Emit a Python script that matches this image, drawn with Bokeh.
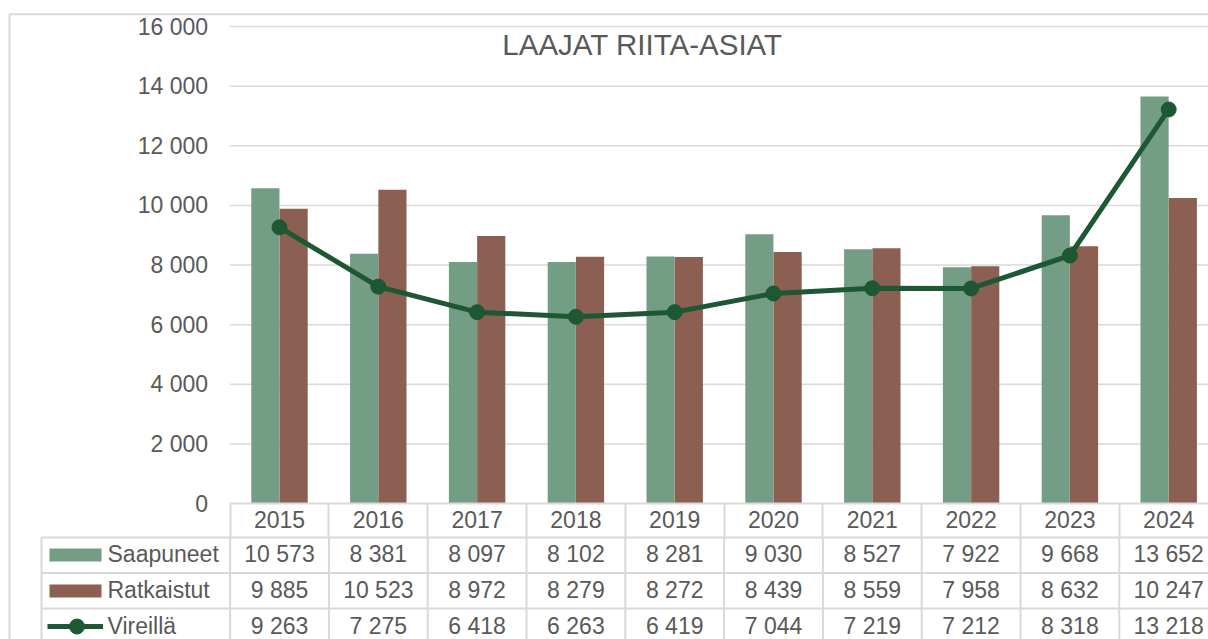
from bokeh.plotting import figure
from bokeh.models import LinearAxis, FixedTicker, Range1d
from bokeh.core.properties import value
from bokeh.embed import file_html
from bokeh.resources import INLINE
import numpy as np

# ---------------- data ----------------
years = ["2015", "2016", "2017", "2018", "2019", "2020", "2021", "2022", "2023", "2024"]
saapuneet = [10573, 8381, 8097, 8102, 8281, 9030, 8527, 7922, 9668, 13652]
ratkaistut = [9885, 10523, 8972, 8279, 8272, 8439, 8559, 7958, 8632, 10247]
vireilla = [9263, 7275, 6418, 6263, 6419, 7044, 7219, 7212, 8318, 13218]
y_ticks = [0, 2000, 4000, 6000, 8000, 10000, 12000, 14000, 16000]
series_names = ["Saapuneet", "Ratkaistut", "Vireillä"]
title_text = "LAAJAT RIITA-ASIAT"

# ---------------- style ----------------
GREEN = "#749D85"
BROWN = "#8B5F51"
LINE = "#1E5733"
GRID = "#d9d9d9"
TXT = "#595959"
FONT = "Liberation Sans"

# ---------------- layout (page pixels) ----------------
W, H = 1208, 639
PAGE = 0
X0, PITCH = 279.0, 98.8        # centre of first category, category pitch
Y0, YTOP, YMAX = 503.0, 26.0, 16000.0
K = (Y0 - YTOP) / YMAX


def dx(px):
    return (px - X0) / PITCH


def dy(py):
    return (Y0 - py) / K


def fmt(v):
    return f"{v:,}".replace(",", " ")


XR = dx(PAGE + W)
YB = dy(PAGE + H)

p = figure(width=W, height=H,
           x_range=Range1d(dx(PAGE), XR), y_range=Range1d(YB, dy(PAGE)),
           x_axis_type=None, y_axis_type=None, toolbar_location=None,
           output_backend="svg", min_border=0, title=None)
p.outline_line_color = None
p.background_fill_color = "white"
p.border_fill_color = "white"

idx = np.arange(len(years))

# gridlines
gt = [t for t in y_ticks if t > 0]
p.segment(x0=[-0.5] * len(gt), x1=[XR] * len(gt), y0=gt, y1=gt,
          line_color=GRID, line_width=1.5)

# y axis
yaxis = LinearAxis(fixed_location=-0.5,
                   ticker=FixedTicker(ticks=y_ticks, minor_ticks=[]),
                   major_label_overrides={t: fmt(t) for t in y_ticks})
yaxis.axis_line_color = None
yaxis.major_tick_line_color = None
yaxis.minor_tick_line_color = None
yaxis.major_tick_out = 0
yaxis.major_tick_in = 0
yaxis.major_label_standoff = 22
yaxis.major_label_text_font = FONT
yaxis.major_label_text_font_size = "23px"
yaxis.major_label_text_color = TXT
p.add_layout(yaxis, "left")

# x axis (doubles as header row of the data table)
xaxis = LinearAxis(fixed_location=0,
                   ticker=FixedTicker(ticks=list(idx), minor_ticks=[i - 0.5 for i in range(len(years) + 1)]),
                   major_label_overrides={int(i): y for i, y in zip(idx, years)},
                   bounds=(-0.5, len(years) - 0.5))
xaxis.axis_line_color = GRID
xaxis.axis_line_width = 2
xaxis.major_tick_line_color = None
xaxis.major_tick_out = 0
xaxis.major_tick_in = 0
xaxis.minor_tick_line_color = GRID
xaxis.minor_tick_line_width = 2
xaxis.minor_tick_out = 34
xaxis.minor_tick_in = 0
xaxis.major_label_standoff = -27
xaxis.major_label_text_font = FONT
xaxis.major_label_text_font_size = "23px"
xaxis.major_label_text_color = TXT
p.add_layout(xaxis, "below")

# bars
BW = 0.285
OFF = 0.143
p.vbar(x=idx - OFF, top=saapuneet, width=BW, fill_color=GREEN, line_color=None)
p.vbar(x=idx + OFF, top=ratkaistut, width=BW, fill_color=BROWN, line_color=None)

# line
p.line(idx, vireilla, line_color=LINE, line_width=5)
p.scatter(idx, vireilla, size=15, fill_color=LINE, line_color=LINE)

# title
p.text(x=[dx(642)], y=[dy(44)], text=[title_text], text_align="center", text_baseline="middle",
       text_font=value(FONT), text_font_size="29.5px", text_color=TXT)

# ---------------- data table ----------------
row_lines = [537, 572.5, 608]
p.segment(x0=[dx(41)] * len(row_lines), x1=[XR] * len(row_lines),
          y0=[dy(r) for r in row_lines], y1=[dy(r) for r in row_lines],
          line_color=GRID, line_width=2)
vx = [dx(41)] + [i - 0.5 for i in range(len(years) + 1)]
p.segment(x0=vx, x1=vx, y0=[dy(537)] * len(vx), y1=[YB] * len(vx),
          line_color=GRID, line_width=2)

row_centers = [553.5, 589, 625]
for vals, cy in zip([saapuneet, ratkaistut, vireilla], row_centers):
    p.text(x=idx, y=[dy(cy)] * len(idx), text=[fmt(v) for v in vals],
           text_align="center", text_baseline="middle",
           text_font=value(FONT), text_font_size="23px", text_color=TXT)

p.text(x=[dx(107)] * 3, y=[dy(c) for c in row_centers], text=series_names,
       text_align="left", text_baseline="middle",
       text_font=value(FONT), text_font_size="23px", text_color=TXT)

# legend keys
p.quad(left=[dx(49)], right=[dx(101)], top=[dy(548)], bottom=[dy(561)], fill_color=GREEN, line_color=None)
p.quad(left=[dx(49)], right=[dx(101)], top=[dy(584)], bottom=[dy(597)], fill_color=BROWN, line_color=None)
p.segment(x0=[dx(47)], x1=[dx(102.5)], y0=[dy(626)], y1=[dy(626)], line_color=LINE, line_width=5)
p.scatter([dx(76.5)], [dy(626)], size=15, fill_color=LINE, line_color=LINE)

# outer chart border
p.segment(x0=[dx(9), dx(9)], x1=[dx(9), XR], y0=[dy(13.7), dy(13.7)], y1=[YB, dy(13.7)],
          line_color=GRID, line_width=2)

open("out.html", "w").write(file_html(p, INLINE))
